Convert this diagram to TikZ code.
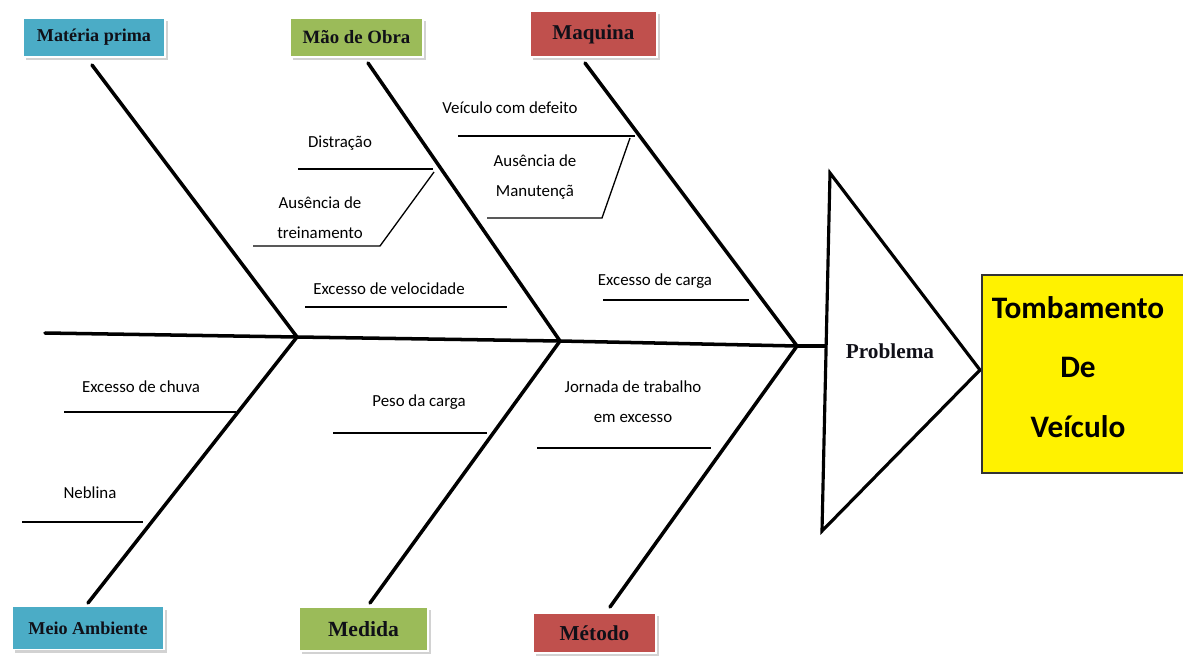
\documentclass[tikz,border=0pt]{standalone}
\usepackage{fontspec}
\setmainfont{Liberation Serif}
\newfontfamily\calfont{Carlito}
\definecolor{cblue}{HTML}{4BACC6}
\definecolor{cgreen}{HTML}{9BBB59}
\definecolor{cred}{HTML}{C0504D}
\definecolor{ink}{HTML}{101018}
\tikzset{
  bone/.style={line width=2pt, line cap=round},
  sub/.style={line width=0.75pt},
  cat/.style={draw=white, line width=0.6pt, inner sep=0pt, text=ink},
  shadowbox/.style={fill=gray!35, draw=none},
  cause/.style={font=\calfont\fontsize{9.6}{17}\selectfont, align=center, inner sep=0pt},
}
\newcommand{\catbox}[8]{% name, cx, cy, w, h, colour, fontsize, text
  \fill[shadowbox] (#2-#4/2+3,#3-#5/2+3) rectangle (#2+#4/2+3,#3+#5/2+3);
  \node[cat, fill=#6, minimum width=#4*0.02cm, minimum height=#5*0.02cm,
        font=\bfseries\fontsize{#7}{#7}\selectfont] (#1) at (#2,#3) {#8};}
\begin{document}
\begin{tikzpicture}[x=0.02cm,y=-0.02cm]
\useasboundingbox (0,0) rectangle (1183,659);
\fill[white] (0,0) rectangle (1183,659);

% category boxes
\catbox{mp}{94}{37.5}{142}{39}{cblue}{10.3}{Matéria prima}
\catbox{mo}{356.5}{37.5}{133}{39}{cgreen}{10.7}{Mão de Obra}
\catbox{maq}{593.5}{34}{127}{46}{cred}{12}{Maquina}
\catbox{ma}{88}{628}{152}{43}{cblue}{10.3}{Meio Ambiente}
\catbox{med}{363.5}{629}{129}{44}{cgreen}{12.3}{Medida}
\catbox{met}{594.5}{633}{123}{40}{cred}{12.1}{Método}

% junctions and bone ends
\coordinate (tail) at (45,333);
\coordinate (j1) at (297,337);
\coordinate (j2) at (560,341);
\coordinate (j3) at (797,346);
\coordinate (head) at (825,346);
\coordinate (mpE) at (92,65);
\coordinate (moE) at (368,63);
\coordinate (maqE) at (585,63);
\coordinate (maE) at (88,603);
\coordinate (medE) at (370,603);
\coordinate (metE) at (610,607);

% spine and bones
\draw[bone] (tail) -- (j1) -- (j2) -- (j3) -- (head);
\draw[bone] (mpE) -- (j1) -- (maE);
\draw[bone] (moE) -- (j2) -- (medE);
\draw[bone] (maqE) -- (j3) -- (metE);

% problem triangle
\coordinate (t1) at (830,173);
\coordinate (t2) at (980,370);
\coordinate (t3) at (822,531);
\draw[line width=1.8pt, line join=miter] (t1) -- (t2) -- (t3) -- cycle;
\node[font=\bfseries\fontsize{12.1}{12}\selectfont, text=ink] (prob) at (890,351) {Problema};

% effect box
\node[draw=black!80, line width=0.6pt, fill=yellow, minimum width=206*0.02cm,
      minimum height=198*0.02cm, inner sep=0pt] (eff) at (1085,374) {};
\node[font=\calfont\bfseries\fontsize{17.8}{34}\selectfont, align=center] (efft)
  at (1078,367) {Tombamento\\De\\Veículo};

% Mão de Obra causes
\node[cause] (c1) at (340,143) {Distração};
\coordinate (c1a) at (298,169); \coordinate (c1b) at (433,169);
\draw[sub] (c1a) -- (c1b);
\node[cause] (c2) at (320,218) {Ausência de\\treinamento};
\coordinate (c2a) at (253,246); \coordinate (c2b) at (380,246); \coordinate (c2c) at (434,172);
\draw[sub] (c2a) -- (c2b) -- (c2c);
\node[cause] (c3) at (389,289) {Excesso de velocidade};
\coordinate (c3a) at (305,307); \coordinate (c3b) at (507,307);
\draw[sub] (c3a) -- (c3b);

% Maquina causes
\node[cause] (c4) at (510,108) {Veículo com defeito};
\coordinate (c4a) at (458,136); \coordinate (c4b) at (635,136);
\draw[sub] (c4a) -- (c4b);
\node[cause] (c5) at (535,177) {Ausência de\\Manutençã};
\coordinate (c5a) at (487,218); \coordinate (c5b) at (602,218); \coordinate (c5c) at (630,138);
\draw[sub] (c5a) -- (c5b) -- (c5c);
\node[cause] (c6) at (655,281) {Excesso de carga};
\coordinate (c6a) at (603,300); \coordinate (c6b) at (749,300);
\draw[sub] (c6a) -- (c6b);

% Meio Ambiente causes
\node[cause] (c7) at (141,387) {Excesso de chuva};
\coordinate (c7a) at (64,412); \coordinate (c7b) at (236,412);
\draw[sub] (c7a) -- (c7b);
\node[cause] (c8) at (90,493) {Neblina};
\coordinate (c8a) at (22,522); \coordinate (c8b) at (143,522);
\draw[sub] (c8a) -- (c8b);

% Medida causes
\node[cause] (c9) at (419,402) {Peso da carga};
\coordinate (c9a) at (333,433); \coordinate (c9b) at (487,433);
\draw[sub] (c9a) -- (c9b);

% Método causes
\node[cause] (c10) at (633,402) {Jornada de trabalho\\em excesso};
\coordinate (c10a) at (537,448); \coordinate (c10b) at (711,448);
\draw[sub] (c10a) -- (c10b);
\end{tikzpicture}
\end{document}
